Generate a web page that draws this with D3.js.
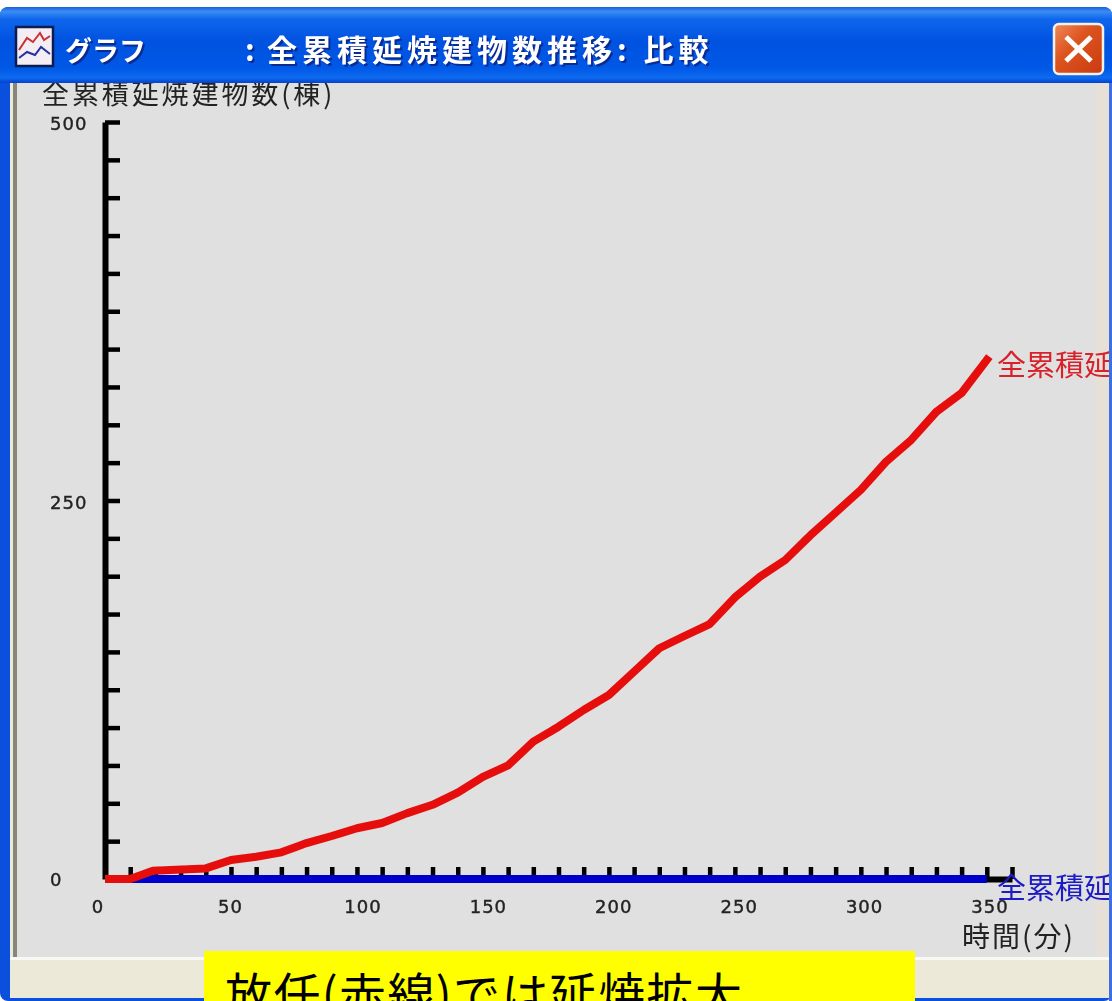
<!DOCTYPE html>
<html lang="ja"><head><meta charset="utf-8">
<script src="https://cdnjs.cloudflare.com/ajax/libs/d3/7.8.5/d3.min.js"></script>
<style>html,body{margin:0;padding:0;background:#fff;overflow:hidden}svg{display:block}
text{font-family:"Noto Sans CJK JP","Noto Sans",sans-serif}</style></head>
<body><svg id="c" width="1112" height="1001"></svg>
<script>
const times=[0,10,19,40,50,60,70,80,90,100,110,120,130,140,150,160,170,180,190,200,210,220,230,240,250,260,270,280,290,300,310,320,330,340,351];
const redValues=[0,0,5.5,7,12.5,14.7,17.6,23.7,28.4,33.5,37,43.5,49,57,67.4,75,90.7,100.6,111.6,121.5,137,152.4,160.5,168.4,186,199.7,210.7,227,242,257,275.6,290,308.6,321,345];
const blueTimes=[0,350];
const blueValues=[0,0];
const xTicks=d3.range(0,361,10);
const yTicks=d3.range(0,501,25);
const xLabels=[0,50,100,150,200,250,300,350];
const yLabels=[0,250,500];
const yTitle="全累積延焼建物数(棟)";
const xTitle="時間(分)";
const windowTitle="グラフ";
const chartTitleA=":";
const chartTitleB="全累積延焼建物数推移";
const chartTitleC=": 比較";
const seriesLabel="全累積延";
const note="放任(赤線)では延焼拡大";

const svg=d3.select("#c");
const defs=svg.append("defs");
const soft=defs.append("filter").attr("id","soft").attr("filterUnits","userSpaceOnUse").attr("x",0).attr("y",0).attr("width",1112).attr("height",1001);
soft.append("feGaussianBlur").attr("stdDeviation",0.6);
defs.append("clipPath").attr("id","client").append("rect").attr("x",0).attr("y",0).attr("width",1109).attr("height",1001);
const tg=defs.append("linearGradient").attr("id","tb").attr("x1",0).attr("x2",0).attr("y1",0).attr("y2",1);
[[0,"#1d5fd8"],[0.06,"#3a8cf5"],[0.16,"#0f66ec"],[0.45,"#0052e0"],[0.8,"#0058e6"],[0.93,"#0e6af0"],[1,"#0342cc"]].forEach(s=>tg.append("stop").attr("offset",s[0]).attr("stop-color",s[1]));
const bg=defs.append("linearGradient").attr("id","cb").attr("x1",0).attr("x2",1).attr("y1",0).attr("y2",1);
[[0,"#f08a5a"],[0.4,"#dd5420"],[1,"#c83a10"]].forEach(s=>bg.append("stop").attr("offset",s[0]).attr("stop-color",s[1]));

const x=d3.scaleLinear().domain([0,360]).range([105,1012]);
const y=d3.scaleLinear().domain([0,500]).range([879,122]);
const xLab=d3.scaleLinear().domain([0,100,350]).range([98,363,990]);

// window frame
svg.append("rect").attr("x",0).attr("y",7).attr("width",1112).attr("height",994).attr("rx",8).attr("fill","#0a50dc");
svg.append("rect").attr("x",1109).attr("y",83).attr("width",3).attr("height",918).attr("fill","#3c70e0");
svg.append("rect").attr("x",10).attr("y",80).attr("width",1099).attr("height",918).attr("fill","#e0e0e0");
svg.append("rect").attr("x",10).attr("y",80).attr("width",3).attr("height",877).attr("fill","#ece9d8");
svg.append("rect").attr("x",13).attr("y",80).attr("width",4).attr("height",877).attr("fill","#86867a");
svg.append("rect").attr("x",10).attr("y",957).attr("width",1099).attr("height",41).attr("fill","#ece9d8");
svg.append("rect").attr("x",10).attr("y",957).attr("width",1099).attr("height",3).attr("fill","#f8f8f4");
svg.append("rect").attr("x",1095).attr("y",83).attr("width",14).attr("height",874).attr("fill","#e6e0d8");

const chart=svg.append("g").attr("filter","url(#soft)").attr("clip-path","url(#client)");

// axes
const xAxis=d3.axisTop(x).tickValues(xTicks).tickSize(12).tickSizeOuter(0).tickFormat("");
const gx=chart.append("g").attr("transform","translate(0,879)").call(xAxis);
gx.selectAll("line").attr("stroke","#000").attr("stroke-width",4.5);
gx.select(".domain").attr("stroke","#000").attr("stroke-width",6);
const yAxis=d3.axisRight(y).tickValues(yTicks).tickSize(15).tickSizeOuter(0).tickFormat("");
const gy=chart.append("g").attr("transform","translate(105,0)").call(yAxis);
gy.selectAll("line").attr("stroke","#000").attr("stroke-width",4.5);
gy.select(".domain").attr("stroke","#000").attr("stroke-width",6);

chart.selectAll(".yl").data(yLabels).join("text").attr("class","yl")
  .attr("x",50).attr("y",d=>y(d)+(d===0?7:8)).attr("font-size",18).attr("letter-spacing",1).attr("fill","#222")
  .attr("stroke","#222").attr("stroke-width",0.4)
  .style("font-family","'DejaVu Sans'").text(d=>d);
chart.selectAll(".xl").data(xLabels).join("text").attr("class","xl")
  .attr("x",d=>xLab(d)).attr("y",913).attr("text-anchor","middle").attr("font-size",18).attr("letter-spacing",1).attr("fill","#222")
  .attr("stroke","#222").attr("stroke-width",0.4)
  .style("font-family","'DejaVu Sans'").text(d=>d);

chart.append("text").attr("x",42).attr("y",104).attr("font-size",27).attr("letter-spacing",2.9).attr("fill","#222").text(yTitle);
chart.append("text").attr("x",962).attr("y",947).attr("font-size",28).attr("letter-spacing",2).attr("fill","#222").text(xTitle);

// series
const line=d3.line().x(d=>x(d[0])).y(d=>y(d[1]));
chart.append("path").datum(blueTimes.map((t,i)=>[t,blueValues[i]])).attr("d",line)
  .attr("fill","none").attr("stroke","#0000cc").attr("stroke-width",8);
chart.append("path").datum(times.map((t,i)=>[t,redValues[i]])).attr("d",line)
  .attr("fill","none").attr("stroke","#e60c0c").attr("stroke-width",8).attr("stroke-linejoin","round");

chart.append("text").attr("x",997).attr("y",376).attr("font-size",29).attr("fill","#d8202c").text(seriesLabel);
chart.append("text").attr("x",997).attr("y",899).attr("font-size",29).attr("fill","#1c1cc4").text(seriesLabel);

// title bar on top of the clipped axis title
const bar=svg.append("g");
bar.append("path").attr("d","M0 83V15Q0 7 10 7H1102Q1112 7 1112 15V83Z").attr("fill","url(#tb)");
const hd=bar.append("g").attr("filter","url(#soft)");
function titleText(s,px,py,fs,ls){
  hd.append("text").attr("x",px+2).attr("y",py+2).attr("font-size",fs).attr("font-weight",700).attr("letter-spacing",ls).attr("fill","#0a2a90").text(s);
  hd.append("text").attr("x",px).attr("y",py).attr("font-size",fs).attr("font-weight",700).attr("letter-spacing",ls).attr("fill","#fff").text(s);
}
titleText(windowTitle,65,61,27,0);
titleText(chartTitleA,245,61,30,0);
titleText(chartTitleB,267,61,30,5);
titleText(chartTitleC,617,61,30,5);

// window icon
const ic=hd.append("g");
const iconLine=d3.line();
ic.append("rect").attr("x",16).attr("y",27).attr("width",37).attr("height",39).attr("fill","#f4eef4").attr("stroke","#0a1a50").attr("stroke-width",2.5);
ic.append("path").attr("d",iconLine([[19,50],[27,38],[33,42],[40,33],[44,40],[50,36]])).attr("fill","none").attr("stroke","#c83030").attr("stroke-width",2);
ic.append("path").attr("d",iconLine([[19,58],[27,52],[35,55],[41,47],[50,54]])).attr("fill","none").attr("stroke","#2030a0").attr("stroke-width",2);

// close button
const cb=hd.append("g");
cb.append("rect").attr("x",1054).attr("y",24).attr("width",49).attr("height",50).attr("rx",5).attr("fill","url(#cb)").attr("stroke","#f4f0ec").attr("stroke-width",2.5);
cb.append("path").attr("d",iconLine([[1066,37],[1091,61]])).attr("stroke","#fff").attr("stroke-width",5);
cb.append("path").attr("d",iconLine([[1091,37],[1066,61]])).attr("stroke","#fff").attr("stroke-width",5);

// note
svg.append("rect").attr("x",204).attr("y",951).attr("width",711).attr("height",50).attr("fill","#ffff00");
svg.append("text").attr("x",225).attr("y",1012).attr("font-size",47).attr("fill","#000")
  .attr("textLength",517).attr("lengthAdjust","spacing").text(note);
</script></body></html>
